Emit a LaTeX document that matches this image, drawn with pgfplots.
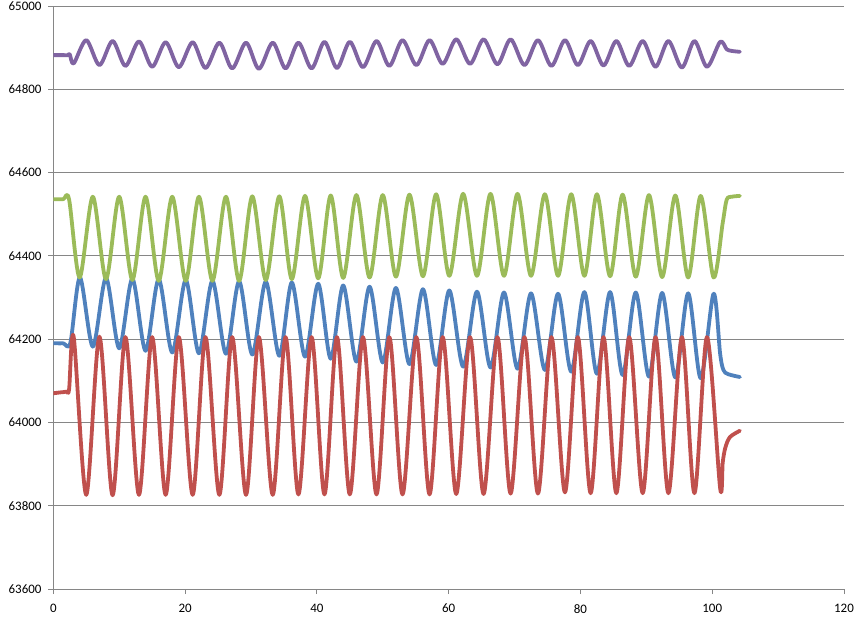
\documentclass[border=0pt]{standalone}
\usepackage{fontspec}
\setmainfont{Carlito}
\usepackage{pgfplots}
\pgfplotsset{compat=1.18}
\definecolor{sblue}{HTML}{4F81BD}
\definecolor{sred}{HTML}{C0504D}
\definecolor{sgreen}{HTML}{9BBB59}
\definecolor{spurple}{HTML}{8064A2}
\definecolor{gridgray}{HTML}{868686}
\begin{document}
\begin{tikzpicture}
\begin{axis}[
  scale only axis, width=790.7bp, height=583bp,
  xmin=0, xmax=120, ymin=63600, ymax=65000,
  xtick={0,20,...,120}, ytick={63600,63800,...,65000},
  scaled y ticks=false, scaled x ticks=false,
  axis x line*=bottom, axis y line*=left,
  axis line style={-, draw=gridgray, line width=0.9bp},
  tick pos=left, tick align=outside, major tick length=5bp,
  tick style={draw=gridgray, line width=0.9bp},
  ymajorgrids, grid style={draw=gridgray, line width=0.9bp},
  ticklabel style={font=\fontsize{13}{15}\selectfont, text=black, inner sep=0pt},
  yticklabel style={anchor=east, xshift=-6.6bp},
  xticklabel style={anchor=north, yshift=-10bp},
  /pgf/number format/.cd, set thousands separator={}, assume math mode=true, fixed,
  /tikz/.cd,
  every axis plot/.append style={line width=3.8bp, smooth, tension=0.5, line join=round, line cap=round, mark=none},
]
% blue
\addplot[sblue] coordinates {(0,64190) (1.5,64190) (2.6,64192) (4.05,64348) (6.0,64182) (8.0,64347) (10.0,64178) (12.0,64345) (14.0,64172) (16.0,64344) (18.05,64168) (20.1,64342) (22.1,64166) (24.15,64340) (26.2,64165) (28.2,64339) (30.2,64163) (32.25,64338) (34.3,64160) (36.2,64336) (38.2,64158) (40.2,64333) (42.1,64153) (44.0,64329) (46.0,64146) (48.0,64326) (50.0,64144) (52.0,64323) (54.05,64140) (56.1,64320) (58.1,64138) (60.1,64317) (62.2,64134) (64.3,64314) (66.35,64132) (68.4,64312) (70.45,64129) (72.5,64310) (74.6,64126) (76.6,64309) (78.6,64122) (80.6,64313) (82.5,64117) (84.5,64313) (86.4,64114) (88.4,64312) (90.4,64110) (92.4,64311) (94.4,64108) (96.35,64310) (98.25,64106) (100.2,64309) (101.2,64165) (101.7,64126) (102.4,64116) (104.2,64109)};
% red
\addplot[sred] coordinates {(0,64070) (1,64072) (2,64074) (2.4,64080) (3.1,64205) (5.0,63826) (7.0,64206) (9.0,63825) (10.95,64205) (13.0,63826) (15.0,64205) (17.05,63826) (19.05,64205) (21.15,63826) (23.1,64205) (25.2,63826) (27.15,64205) (29.25,63826) (31.2,64205) (33.3,63826) (35.25,64205) (37.2,63827) (39.2,64205) (41.15,63827) (43.05,64205) (45.0,63827) (47.0,64205) (49.05,63827) (51.0,64205) (53.0,63827) (55.1,64205) (57.1,63827) (59.1,64205) (61.15,63828) (63.25,64205) (65.3,63828) (67.4,64205) (69.4,63829) (71.5,64205) (73.55,63829) (75.6,64205) (77.65,63832) (79.6,64205) (81.55,63830) (83.5,64205) (85.45,63830) (87.4,64205) (89.45,63830) (91.4,64205) (93.35,63830) (95.4,64205) (97.3,63830) (99.2,64205) (101.2,63842) (101.6,63905) (102.0,63940) (102.7,63965) (104.2,63980)};
% green
\addplot[sgreen] coordinates {(0,64536) (1.5,64536) (2.4,64535) (4.0,64348) (6.0,64542) (8.0,64344) (10.0,64542) (12.0,64342) (14.0,64542) (16.0,64340) (18.05,64542) (20.1,64340) (22.1,64542) (24.15,64340) (26.2,64542) (28.2,64340) (30.2,64543) (32.25,64342) (34.3,64543) (36.2,64344) (38.2,64544) (40.2,64346) (42.1,64545) (44.0,64347) (46.0,64546) (48.0,64348) (50.0,64546) (52.0,64350) (54.05,64547) (56.1,64351) (58.1,64548) (60.1,64352) (62.2,64549) (64.3,64352) (66.35,64549) (68.4,64352) (70.45,64549) (72.5,64352) (74.6,64548) (76.6,64352) (78.6,64548) (80.6,64352) (82.5,64548) (84.5,64351) (86.4,64547) (88.4,64350) (90.4,64546) (92.4,64349) (94.4,64545) (96.35,64348) (98.25,64544) (100.2,64348) (101.6,64480) (102.2,64535) (103,64542) (104.2,64544)};
% purple
\addplot[spurple] coordinates {(0,64882) (1.5,64882) (2.2,64882) (2.5,64884) (3.1,64862) (5.0,64918) (7.0,64858) (9.0,64916) (10.95,64856) (13.0,64915) (15.0,64854) (17.05,64913) (19.05,64853) (21.15,64913) (23.1,64851) (25.2,64912) (27.15,64850) (29.25,64912) (31.2,64849) (33.3,64912) (35.25,64850) (37.2,64912) (39.2,64850) (41.15,64914) (43.05,64851) (45.0,64914) (47.0,64853) (49.05,64916) (51.0,64856) (53.0,64918) (55.1,64858) (57.1,64918) (59.1,64861) (61.15,64920) (63.25,64861) (65.3,64920) (67.4,64860) (69.4,64920) (71.5,64858) (73.55,64918) (75.6,64856) (77.65,64918) (79.6,64858) (81.55,64916) (83.5,64857) (85.45,64916) (87.4,64856) (89.45,64916) (91.4,64854) (93.35,64916) (95.4,64852) (97.3,64916) (99.2,64854) (101.2,64914) (102.2,64896) (103,64892) (104.2,64890)};
\end{axis}
\pgfresetboundingbox
\path[use as bounding box] ([xshift=-53.3bp,yshift=-30bp]current axis.south west) rectangle ([xshift=18bp,yshift=6bp]current axis.north east);
\end{tikzpicture}
\end{document}
